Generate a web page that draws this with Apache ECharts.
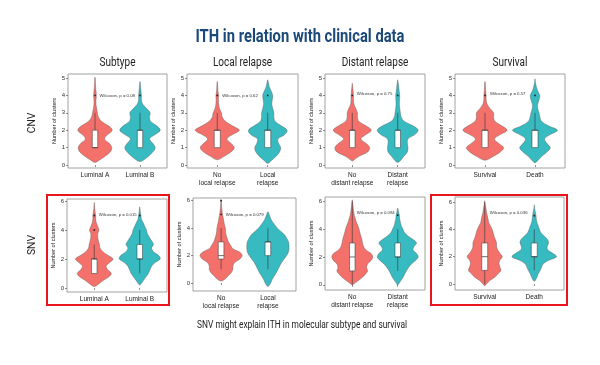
<!DOCTYPE html>
<html><head><meta charset="utf-8">
<script src="https://cdn.jsdelivr.net/npm/echarts@6/dist/echarts.min.js"></script>
<style>html,body{margin:0;padding:0;background:#fff}#c{width:600px;height:365px}</style>
</head><body><div id="c"></div>
<script>
// ---------- data ----------
const chartTitle = 'ITH in relation with clinical data';
const caption = 'SNV might explain ITH in molecular subtype and survival';
const columnTitles = ['Subtype', 'Local relapse', 'Distant relapse', 'Survival'];
const rowTitles = ['CNV', 'SNV'];
const groupLabels = [['Luminal A', 'Luminal B'], ['No\nlocal relapse', 'Local\nrelapse'], ['No\ndistant relapse', 'Distant\nrelapse'], ['Survival', 'Death']];
const yTicksCNV = [0, 1, 2, 3, 4, 5];
const yTicksSNV = [0, 2, 4, 6];
const pValuesCNV = ['0.08', '0.62', '0.75', '0.57'];
const pValuesSNV = ['0.015', '0.079', '0.094', '0.036'];
const pLabelY_CNV = [4.0, 4.0, 4.1, 4.1];
const pLabelY_SNV = [5.05, 5.0, 5.2, 5.2];
// density sampling levels (number of clusters)
const densityLevels = [0, 0.25, 0.5, 0.75, 1, 1.25, 1.5, 1.75, 2, 2.25, 2.5, 2.75, 3, 3.25, 3.5, 3.75, 4, 4.25, 4.5, 4.75, 5, 5.25, 5.5, 5.75, 6];
const _ = null;
// violin end points [low tip, high tip] per panel, per group
const cnvTips = [[[0.15, 5.05], [0.2, 4.8]], [[0.3, 4.8], [0.1, 4.9]], [[0.22, 4.7], [0.15, 4.9]], [[0.28, 4.8], [0.13, 4.95]]];
const snvTips = [[[0.1, 5.9], [0.2, 5.6]], [[0.15, 6.1], [-0.25, 5.2]], [[-0.02, 6.1], [-0.02, 5.5]], [[-0.12, 6.1], [0.2, 5.8]]];
// relative density (1 = widest violin in panel) at densityLevels
const cnvDensity = [
  [[_, .17, .5, .75, .83, .7, .47, .63, .85, .67, .33, .17, .12, .08, .05, .05, .07, .05, .03, .02, .01, _, _, _, _],
   [_, .13, .42, .63, .75, .63, .47, .75, 1, .83, .53, .47, .5, .33, .13, .07, .07, .05, .03, .01, _, _, _, _, _]],
  [[_, _, .3, .6, .75, .6, .42, .67, .97, .67, .37, .22, .18, .1, .06, .05, .06, .03, .02, .01, _, _, _, _, _],
   [_, .15, .37, .52, .57, .48, .45, .75, .85, .6, .33, .27, .27, .22, .18, .2, .22, .15, .07, .03, _, _, _, _, _]],
  [[_, .03, .33, .75, .85, .67, .42, .67, .93, .67, .33, .25, .25, .17, .08, .06, .06, .04, .02, _, _, _, _, _, _],
   [_, .13, .3, .47, .5, .47, .5, .83, 1, .75, .33, .17, .13, .1, .08, .09, .1, .07, .05, .02, _, _, _, _, _]],
  [[_, _, .38, .68, .83, .6, .42, .68, .98, .75, .45, .38, .38, .22, .09, .05, .05, .03, .02, .01, _, _, _, _, _],
   [_, .12, .3, .53, .68, .53, .42, .68, 1, .6, .3, .22, .18, .12, .12, .18, .21, .12, .06, .02, _, _, _, _, _]]
];
const snvDensity = [
  [[_, .2, .42, .7, .83, .67, .58, .75, .92, .67, .42, .28, .25, .2, .17, .17, .23, .17, .1, .07, .07, .04, .02, .01, _],
   [_, .05, .17, .3, .42, .5, .58, .75, 1, .92, .67, .58, .67, .58, .47, .37, .33, .25, .17, .08, .06, .03, .01, _, _]],
  [[_, .16, .32, .48, .56, .56, .65, .89, 1, .89, .56, .45, .35, .29, .24, .21, .2, .16, .13, .1, .07, .05, .03, .02, .01],
   [.13, .2, .29, .4, .48, .56, .65, .77, .89, .97, 1, 1, .98, .9, .8, .62, .45, .32, .2, .12, .06, _, _, _, _]],
  [[.02, .25, .47, .63, .75, .7, .75, .92, 1, .92, .67, .55, .5, .47, .42, .37, .33, .27, .2, .15, .1, .07, .05, .03, .01],
   [.02, .13, .25, .33, .42, .53, .67, .87, 1, .92, .75, .8, .92, .75, .5, .33, .25, .17, .13, .09, .08, .04, _, _, _]],
  [[.08, .23, .45, .6, .73, .68, .64, .68, .79, .68, .58, .53, .53, .48, .42, .38, .33, .26, .18, .15, .12, .08, .06, .03, .01],
   [_, .04, .12, .18, .27, .33, .42, .68, 1, .83, .6, .58, .64, .6, .45, .3, .23, .18, .12, .09, .08, .05, .02, _, _]]
];
// box stats [lower whisker, Q1, median, Q3, upper whisker]
const cnvBoxes = [[[1, 1, 1, 2, 3], [1, 1, 2, 2, 3]], [[1, 1, 2, 2, 3], [1, 1, 2, 2, 3]], [[1, 1, 2, 2, 3], [1, 1, 2, 2, 3]], [[1, 1, 2, 2, 3], [1, 1, 2, 2, 3]]];
const snvBoxes = [[[1, 1, 2, 2, 3], [1, 2, 2, 3, 4]], [[1, 1.75, 2, 3, 4], [1, 2, 3, 3, 4]], [[0, 1, 2, 3, 6], [1, 2, 2, 3, 4]], [[0, 1, 2, 3, 6], [1, 2, 2, 3, 4]]];
const cnvOutliers = [[[4], [4]], [[4], [4]], [[4], [4]], [[4], [4]]];
const snvOutliers = [[[4, 5], [5]], [[5, 6], []], [[], [5]], [[], [5]]];

// ---------- layout / style ----------
const COLORS = ['#f3716a', '#37bac0'];
const HEAD = 'Roboto, sans-serif';
const SMALL = "'Liberation Sans',Lato,sans-serif";
const gridX = [[[68, 167], [187, 298], [325, 425], [455, 565]], [[67, 167], [193, 296], [325, 425], [455, 564]]];
const gridY = [[[74, 168], [74, 168], [74, 168], [74, 168]], [[199, 292], [198, 291], [197, 290], [197, 290]]];
const yRange = [[[-0.17, 5.23], [-0.17, 5.23], [-0.17, 5.23], [-0.17, 5.23]], [[-0.28, 6.14], [-0.58, 6.2], [-0.37, 6.3], [-0.44, 6.37]]];
const rowLabelY = [123, 245];

// condensed look: horizontal squeeze factors measured against reference text widths
const mctx = document.createElement('canvas').getContext('2d');
function textW(font, s) { mctx.font = font; return mctx.measureText(s).width; }
const TITLE_FONT = 'bold 18px ' + HEAD;
const titleScale = 209 / textW(TITLE_FONT, chartTitle);
const HEAD_FONT = '12px ' + HEAD;
const headScale = 36 / textW(HEAD_FONT, 'Subtype');
const CAP_FONT = '11px ' + HEAD;
const capScale = 210 / textW(CAP_FONT, caption);
const ROW_FONT = '11.5px ' + HEAD;

const rows = [
  {tips: cnvTips, dens: cnvDensity, boxes: cnvBoxes, outl: cnvOutliers, p: pValuesCNV, py: pLabelY_CNV, ticks: yTicksCNV},
  {tips: snvTips, dens: snvDensity, boxes: snvBoxes, outl: snvOutliers, p: pValuesSNV, py: pLabelY_SNV, ticks: yTicksSNV}
];

const grids = [], xAxes = [], yAxes = [], series = [], graphics = [];
let gi = 0;
rows.forEach((row, r) => {
  for (let c = 0; c < 4; c++) {
    const [l, rr] = gridX[r][c], [t, b] = gridY[r][c];
    grids.push({left: l, top: t, width: rr - l, height: b - t, show: true, borderColor: '#8c8c8c', borderWidth: 0.8, backgroundColor: 'transparent', containLabel: false});
    const labels = groupLabels[c];
    xAxes.push({type: 'value', gridIndex: gi, min: 0.4, max: 2.6, splitLine: {show: false}, axisLine: {show: false},
      axisTick: {show: true, customValues: [1, 2], length: 2, lineStyle: {color: '#444', width: 0.6}},
      axisLabel: {customValues: [1, 2], formatter: v => labels[Math.round(v) - 1], fontSize: 6.5, lineHeight: 8, color: '#222', margin: 3, fontFamily: SMALL}});
    yAxes.push({type: 'value', gridIndex: gi, min: yRange[r][c][0], max: yRange[r][c][1], splitLine: {show: false}, axisLine: {show: false},
      axisTick: {show: true, customValues: row.ticks, length: 2, lineStyle: {color: '#444', width: 0.6}},
      axisLabel: {customValues: row.ticks, fontSize: 6, color: '#333', margin: 3, fontFamily: SMALL},
      name: 'Number of clusters', nameLocation: 'middle', nameGap: 11, nameTextStyle: {fontSize: 5.5, color: '#222', fontFamily: SMALL}});
    const tips = row.tips[c], dens = row.dens[c], boxes = row.boxes[c], outl = row.outl[c];
    const pTxt = 'Wilcoxon, p = ' + row.p[c], pY = row.py[c];
    series.push({
      type: 'custom', xAxisIndex: gi, yAxisIndex: gi, clip: false,
      data: [[1, boxes[0][2]], [2, boxes[1][2]]],
      renderItem: function (params, api) {
        const g = api.value(0), vi = g - 1;
        const unit = api.size([1, 0])[0];
        const scaleW = unit * 0.45;
        const cx = api.coord([g, 0])[0];
        const Y = v => api.coord([g, v])[1];
        const [lo, hi] = tips[vi], d = dens[vi];
        const right = [[cx, Y(lo)]];
        densityLevels.forEach((lv, i) => { if (d[i] != null && lv > lo && lv < hi) right.push([cx + d[i] * scaleW, Y(lv)]); });
        right.push([cx, Y(hi)]);
        const left = right.slice(1, -1).reverse().map(p => [2 * cx - p[0], p[1]]);
        const pts = right.concat(left);
        const bx = boxes[vi], bw = unit * 0.12;
        const children = [
          {type: 'polygon', shape: {points: pts, smooth: 0.35}, style: {fill: COLORS[vi], stroke: '#555', lineWidth: 0.4}},
          {type: 'line', shape: {x1: cx, y1: Y(bx[0]), x2: cx, y2: Y(bx[4])}, style: {stroke: '#333', lineWidth: 0.6}},
          {type: 'rect', shape: {x: cx - bw / 2, y: Y(bx[3]), width: bw, height: Y(bx[1]) - Y(bx[3])}, style: {fill: '#fff', stroke: '#333', lineWidth: 0.5}},
          {type: 'line', shape: {x1: cx - bw / 2, y1: Y(bx[2]), x2: cx + bw / 2, y2: Y(bx[2])}, style: {stroke: '#333', lineWidth: 0.7}}
        ];
        outl[vi].forEach(o => children.push({type: 'circle', shape: {cx: cx, cy: Y(o), r: 0.9}, style: {fill: '#222'}}));
        if (vi === 0) {
          const pp = api.coord([1.1, pY]);
          children.push({type: 'text', x: pp[0], y: pp[1], style: {text: pTxt, fontSize: 4.3, fill: '#333', align: 'left', verticalAlign: 'middle', fontFamily: SMALL}});
        }
        return {type: 'group', children: children};
      }
    });
    gi++;
  }
});

graphics.push({type: 'text', x: 300, y: 37, scaleX: titleScale, style: {text: chartTitle, font: TITLE_FONT, fill: '#1b4a7a', align: 'center', verticalAlign: 'middle'}});
for (let c = 0; c < 4; c++) {
  const cxh = (gridX[0][c][0] + gridX[0][c][1]) / 2;
  graphics.push({type: 'text', x: cxh, y: 63, scaleX: headScale, style: {text: columnTitles[c], font: HEAD_FONT, fill: '#222', align: 'center', verticalAlign: 'middle'}});
}
rowTitles.forEach((t, i) => {
  graphics.push({type: 'text', x: 32, y: rowLabelY[i], rotation: Math.PI / 2, scaleX: 0.9, style: {text: t, font: ROW_FONT, fill: '#222', align: 'center', verticalAlign: 'middle'}});
});
graphics.push({type: 'text', x: 302, y: 325, scaleX: capScale, style: {text: caption, font: CAP_FONT, fill: '#222', align: 'center', verticalAlign: 'middle'}});
graphics.push({type: 'rect', z: 100, shape: {x: 47, y: 195, width: 122, height: 110}, style: {fill: null, stroke: '#e8161b', lineWidth: 2}});
graphics.push({type: 'rect', z: 100, shape: {x: 431, y: 195, width: 136, height: 110}, style: {fill: null, stroke: '#e8161b', lineWidth: 2}});

const chart = echarts.init(document.getElementById('c'), null, {renderer: 'canvas'});
chart.setOption({animation: false, backgroundColor: '#fff', grid: grids, xAxis: xAxes, yAxis: yAxes, series: series, graphic: graphics});
</script></body></html>
